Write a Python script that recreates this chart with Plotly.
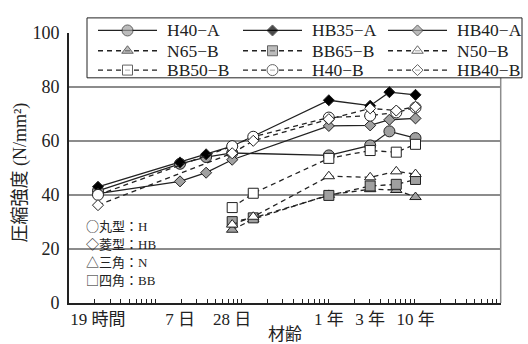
import plotly.graph_objects as go

# ---------------------------------------------------------------- data
# ages are in hours (plotted on a log axis)
ages_A = [19, 168, 336, 672, 8760, 26280, 43800, 87600]          # 19h,7d,14d,28d,1y,3y,5y,10y
ages_B_early = [19, 672, 1176, 8760, 26280, 52560, 87600]        # 19h,28d,49d,1y,3y,6y,10y
ages_B_late = [672, 1176, 8760, 26280, 52560, 87600]             # 28d,49d,1y,3y,6y,10y

h40_a = [41.5, 51.5, 54.0, 55.5, 54.6, 58.3, 63.5, 61.0]
hb35_a = [43.0, 52.0, 55.0, 58.0, 75.0, 73.0, 78.0, 77.0]
hb40_a = [40.5, 45.0, 48.2, 53.0, 65.5, 65.7, 67.8, 68.3]
n65_b = [27.1, 31.0, 40.0, 42.1, 41.8, 39.2]
bb65_b = [30.1, 31.5, 39.8, 43.3, 43.9, 45.7]
n50_b = [29.0, 31.9, 46.9, 46.5, 48.7, 47.7]
bb50_b = [35.3, 40.6, 53.5, 56.4, 55.8, 58.7]
h40_b = [40.0, 58.0, 61.5, 68.6, 69.3, 70.5, 72.3]
hb40_b = [36.2, 55.4, 60.0, 68.0, 72.0, 71.2, 72.6]

tick_ages = [19, 168, 672, 8760, 26280, 87600]
tick_text = ["19 時間", "7 日", "28 日", "1 年", "3 年", "10 年"]

series_names = ["H40−A", "HB35−A", "HB40−A", "N65−B", "BB65−B",
                "N50−B", "BB50−B", "H40−B", "HB40−B"]
series_x = [ages_A, ages_A, ages_A, ages_B_late, ages_B_late,
            ages_B_late, ages_B_late, ages_B_early, ages_B_early]
series_y = [h40_a, hb35_a, hb40_a, n65_b, bb65_b, n50_b, bb50_b, h40_b, hb40_b]

note_shapes = ["○丸型", "◇菱型", "△三角", "□四角"]
note_codes = ["H", "HB", "N", "BB"]

# ---------------------------------------------------------------- styles
INK = "#222222"
GRAY = "#a0a0a0"
WHITE = "#ffffff"
GRID = "#8c8c8c"
SERIF = "Liberation Serif, Noto Sans CJK JP, serif"
CJK = "Noto Sans CJK JP"

SYM = {"circle": 11, "diamond": 8.5, "square": 10, "triangle-up": 10}
styles = [
    ("circle", GRAY, "solid"),
    ("diamond", "#000000", "solid"),
    ("diamond", GRAY, "solid"),
    ("triangle-up", GRAY, "5px,4px"),
    ("square", GRAY, "5px,4px"),
    ("triangle-up", WHITE, "5px,4px"),
    ("square", WHITE, "5px,4px"),
    ("circle", WHITE, "5px,4px"),
    ("diamond", WHITE, "5px,4px"),
]

# ---------------------------------------------------------------- page geometry
W, H = 528, 344
L, R, T, B = 69, 5, 5, 41
PW, PH = W - L - R, H - T - B
PLOT_RIGHT = 500.7
PLOT_TOP = 23.3


def paper_x(p):
    return (p - L) / PW


def paper_y(p):
    return (H - B - p) / PH


fig = go.Figure()

# ---------------------------------------------------------------- curves
for name, xs, ys, (sym, fill, dash) in zip(series_names, series_x, series_y, styles):
    fig.add_trace(go.Scatter(
        x=xs, y=ys, name=name, mode="lines+markers",
        line=dict(color=INK, width=1.3, dash=dash),
        marker=dict(symbol=sym, size=SYM[sym], color=fill,
                    line=dict(color=INK, width=1)),
        showlegend=False, cliponaxis=False,
        xaxis="x", yaxis="y",
    ))

# log tick marks at 2..10 x 10^k hours, carried by an overlaid axis
minor_vals = [m * 10 ** k for k in range(1, 6) for m in range(2, 11)]
fig.add_trace(go.Scatter(x=[10, 1e6], y=[None, None], mode="markers",
                         showlegend=False, hoverinfo="skip",
                         xaxis="x2", yaxis="y"))

# ---------------------------------------------------------------- key box (pixel-space axes)
box_l, box_r, box_t, box_b = 87, 522, 8, 70
row_y = [21, 42, 62]
col_line = [(98, 157), (243, 302), (388, 447)]
for i, (name, (sym, fill, dash)) in enumerate(zip(series_names, styles)):
    r, c = divmod(i, 3)
    x0, x1 = col_line[c]
    xm = (x0 + x1) / 2
    yy = row_y[r]
    fig.add_trace(go.Scatter(
        x=[x0, xm, x1], y=[yy, yy, yy], mode="lines+markers",
        line=dict(color=INK, width=1.3, dash=dash),
        marker=dict(symbol=sym, size=[0, SYM[sym], 0], color=fill,
                    line=dict(color=INK, width=[0, 1, 0])),
        showlegend=False, hoverinfo="skip", cliponaxis=False,
        xaxis="x3", yaxis="y3",
    ))
    fig.add_annotation(x=x1 + 8, y=yy, xref="x3", yref="y3", text=name,
                       showarrow=False, xanchor="left", yanchor="middle",
                       font=dict(family=SERIF, size=17.5, color=INK))

fig.add_shape(type="rect", xref="x3", yref="y3", x0=box_l, x1=box_r,
              y0=box_t, y1=box_b, fillcolor=WHITE,
              line=dict(color=INK, width=1), layer="below")

# shape notes inside the plot
for k, (shp, code) in enumerate(zip(note_shapes, note_codes)):
    txt = f'<span style="font-family:{CJK}">{shp}：</span>{code}'
    fig.add_annotation(x=84, y=[222.7, 241.3, 259.8, 278.7][k], xref="x3", yref="y3",
                       text=txt, showarrow=False, xanchor="left", yanchor="middle",
                       font=dict(family=SERIF, size=13, color=INK))

# right frame line
fig.add_shape(type="line", xref="x domain", yref="y domain", x0=1, x1=1, y0=0, y1=1,
              line=dict(color=GRID, width=1.5), layer="below")

# axis titles
fig.add_annotation(x=paper_x(285), y=paper_y(336), xref="paper", yref="paper",
                   text="材齢", showarrow=False, xanchor="center", yanchor="middle",
                   font=dict(family=SERIF, size=17, color=INK))
fig.add_annotation(x=paper_x(21), y=paper_y(168), xref="paper", yref="paper",
                   text="圧縮強度 (N/mm²)", textangle=-90, showarrow=False,
                   xanchor="center", yanchor="middle",
                   font=dict(family=SERIF, size=18, color=INK))

xdom = [0, (PLOT_RIGHT - L) / PW]
ydom = [0, paper_y(PLOT_TOP)]

fig.update_layout(
    width=W, height=H,
    margin=dict(l=L, r=R, t=T, b=B),
    paper_bgcolor=WHITE, plot_bgcolor="rgba(0,0,0,0)",
    showlegend=False,
    xaxis=dict(type="log", domain=xdom, range=[0.9442, 5.9257],
               tickvals=tick_ages, ticktext=tick_text, ticks="",
               tickfont=dict(family=SERIF, size=17, color=INK),
               showgrid=False, zeroline=False,
               showline=True, linecolor=INK, linewidth=2, anchor="y"),
    xaxis2=dict(type="log", overlaying="x", anchor="y", range=[1, 6],
                tickvals=minor_vals, ticks="inside", ticklen=4, tickwidth=1.2,
                tickcolor=INK, showticklabels=False, showgrid=False,
                showline=False, zeroline=False, side="bottom"),
    yaxis=dict(domain=ydom, range=[0, 100], dtick=20, ticks="",
               tickfont=dict(family=SERIF, size=18, color=INK),
               showgrid=True, gridcolor=GRID, gridwidth=1.5, zeroline=False,
               showline=True, linecolor=INK, linewidth=2, anchor="x",
               ticklabelstandoff=4),
    xaxis3=dict(domain=[0, 1], range=[L, W - R], visible=False, anchor="y3"),
    yaxis3=dict(domain=[0, 1], range=[H - B, T], visible=False, anchor="x3"),
)

fig.write_html("out.html")
